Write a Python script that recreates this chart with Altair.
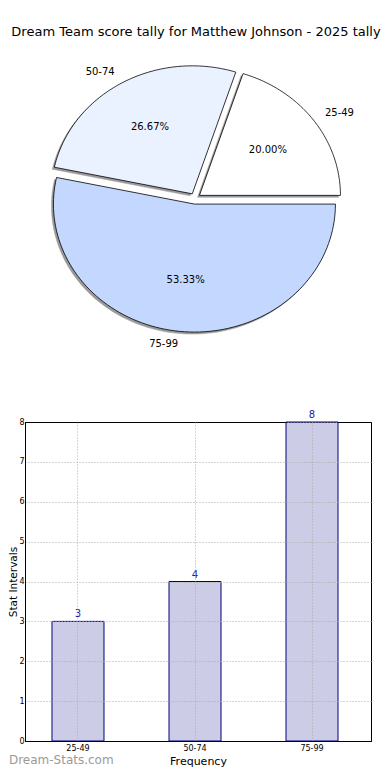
import math
import altair as alt
import pandas as pd

# ---- data ----
categories = ["25-49", "50-74", "75-99"]
counts = [3, 4, 8]
order = [0, 1, 2]
pie_colors = ["#ffffff", "#eaf2ff", "#c4d8ff"]
y_ticks = [0, 1, 2, 3, 4, 5, 6, 7, 8]
title_text = "Dream Team score tally for Matthew Johnson - 2025 tally"
watermark = "Dream-Stats.com"

FONT = "DejaVu Sans"
N = 96                 # points along each wedge's rim
RX, RY = 141, 128      # pie radii (px) - the reference pie is slightly elliptical
D = 5.5                # explode distance (px)
PIE_W, PIE_H = 346, 310
CY_FROM_TOP = 147.6

df = pd.DataFrame({"cat": categories, "count": counts, "order": order})
df["steps"] = [list(range(N + 3)) for _ in categories]

xs = alt.Scale(domain=[-170, 176], nice=False, zero=False)
ys = alt.Scale(domain=[CY_FROM_TOP - PIE_H, CY_FROM_TOP], nice=False, zero=False)

base = (
    alt.Chart(df)
    .transform_joinaggregate(total="sum(count)")
    .transform_calculate(frac="datum.count / datum.total")
    .transform_window(cum="sum(frac)", sort=[alt.SortField("order")])
    .transform_calculate(start="datum.cum - datum.frac")
    .transform_calculate(mid="2 * PI * (datum.cum - datum.frac / 2)")
    .transform_calculate(
        ex=f"{D} * cos(datum.mid)",
        ey=f"{D} * sin(datum.mid)",
    )
)

wedge = (
    base.transform_flatten(["steps"])
    .transform_calculate(
        ang=f"2 * PI * (datum.start + datum.frac * (datum.steps - 1) / {N})",
        isc=f"datum.steps == 0 || datum.steps == {N + 2}",
    )
    .transform_calculate(
        wx=f"datum.ex + (datum.isc ? 0 : {RX} * cos(datum.ang))",
        wy=f"datum.ey + (datum.isc ? 0 : {RY} * sin(datum.ang))",
    )
    .transform_calculate(sx="datum.wx - 2", sy="datum.wy - 2")
)

shadow = wedge.mark_line(fill="#9a9a9a", stroke="#9a9a9a", strokeWidth=0.5).encode(
    x=alt.X("sx:Q", scale=xs, axis=None),
    y=alt.Y("sy:Q", scale=ys, axis=None),
    detail="cat:N",
    order="steps:Q",
)

slices = wedge.mark_line(stroke="black", strokeWidth=0.8, strokeJoin="miter").encode(
    x=alt.X("wx:Q", scale=xs, axis=None),
    y=alt.Y("wy:Q", scale=ys, axis=None),
    fill=alt.Fill("cat:N", scale=alt.Scale(domain=categories, range=pie_colors), legend=None),
    detail="cat:N",
    order="steps:Q",
)

lab = base.transform_calculate(
    px=f"datum.ex + {0.6 * RX} * cos(datum.mid)",
    py=f"datum.ey + {0.6 * RY} * sin(datum.mid)",
    lx=f"datum.ex + {1.1 * RX} * cos(datum.mid)",
    ly=f"datum.ey + {1.1 * RY} * sin(datum.mid)",
    pct="format(datum.frac * 100, '.2f') + '%'",
)

pct_text = lab.mark_text(fontSize=10, font=FONT, color="black").encode(
    x=alt.X("px:Q", scale=xs, axis=None),
    y=alt.Y("py:Q", scale=ys, axis=None),
    text="pct:N",
)

lab_right = lab.transform_filter("cos(datum.mid) >= 0").mark_text(
    fontSize=10, font=FONT, color="black", align="left", baseline="middle"
).encode(
    x=alt.X("lx:Q", scale=xs, axis=None),
    y=alt.Y("ly:Q", scale=ys, axis=None),
    text="cat:N",
)

lab_left = lab.transform_filter("cos(datum.mid) < 0").mark_text(
    fontSize=10, font=FONT, color="black", align="right", baseline="middle"
).encode(
    x=alt.X("lx:Q", scale=xs, axis=None),
    y=alt.Y("ly:Q", scale=ys, axis=None),
    text="cat:N",
)

pie = alt.layer(shadow, slices, pct_text, lab_right, lab_left).properties(
    width=PIE_W,
    height=PIE_H,
    title=alt.TitleParams(
        title_text, fontSize=13, font=FONT, fontWeight="normal", anchor="middle",
        offset=12, color="black", dx=-2,
    ),
)

# ---- bar chart ----
bx = alt.X(
    "cat:N",
    sort=categories,
    scale=alt.Scale(paddingInner=0.5556, paddingOuter=0.2563, align=0.45),
    axis=alt.Axis(
        title="Frequency",
        labelAngle=0,
        labelFontSize=8,
        labelFont=FONT,
        labelPadding=3,
        titleFontSize=11,
        titleFont=FONT,
        titleFontWeight="normal",
        titlePadding=3,
        grid=True,
        gridDash=[1, 2],
        gridColor="#aaaaaa",
        bandPosition=0.5,
        ticks=False,
        domainColor="black",
        zindex=1,
    ),
)
by = alt.Y(
    "count:Q",
    scale=alt.Scale(domain=[0, 8], nice=False),
    axis=alt.Axis(
        title="Stat Intervals",
        values=y_ticks,
        labelFontSize=8,
        labelFont=FONT,
        labelPadding=1,
        titleFontSize=10.5,
        titleFont=FONT,
        titleFontWeight="normal",
        titlePadding=0,
        grid=True,
        gridDash=[1, 2],
        gridColor={
            "condition": {"test": "datum.value == 0 || datum.value == 8", "value": "black"},
            "value": "#aaaaaa",
        },
        ticks=False,
        domainColor="black",
        zindex=1,
    ),
)

bars = alt.Chart(df).mark_bar(fill="#ccccE6", stroke="#000080", strokeWidth=1).encode(x=bx, y=by)
bar_text = alt.Chart(df).mark_text(
    fontSize=10, font=FONT, color="#1a1aa6", baseline="bottom", dy=-2
).encode(x=bx, y=by, text="count:Q")

bar = alt.layer(bars, bar_text).properties(
    width=346,
    height=319,
    view=alt.ViewBackground(stroke="black", strokeWidth=1),
    title=alt.TitleParams(
        watermark, orient="bottom", anchor="start", frame="bounds", fontSize=12, font=FONT,
        fontWeight="normal", color="#9a9a9a", offset=-11,
    ),
)

chart = (
    alt.vconcat(pie, bar, spacing=47)
    .properties(padding={"left": 0, "top": 17, "right": 0, "bottom": 0})
    .configure(font=FONT)
    .configure_view(stroke="transparent")
)

chart.save("out.html", embed_options={"renderer": "svg", "actions": False})
